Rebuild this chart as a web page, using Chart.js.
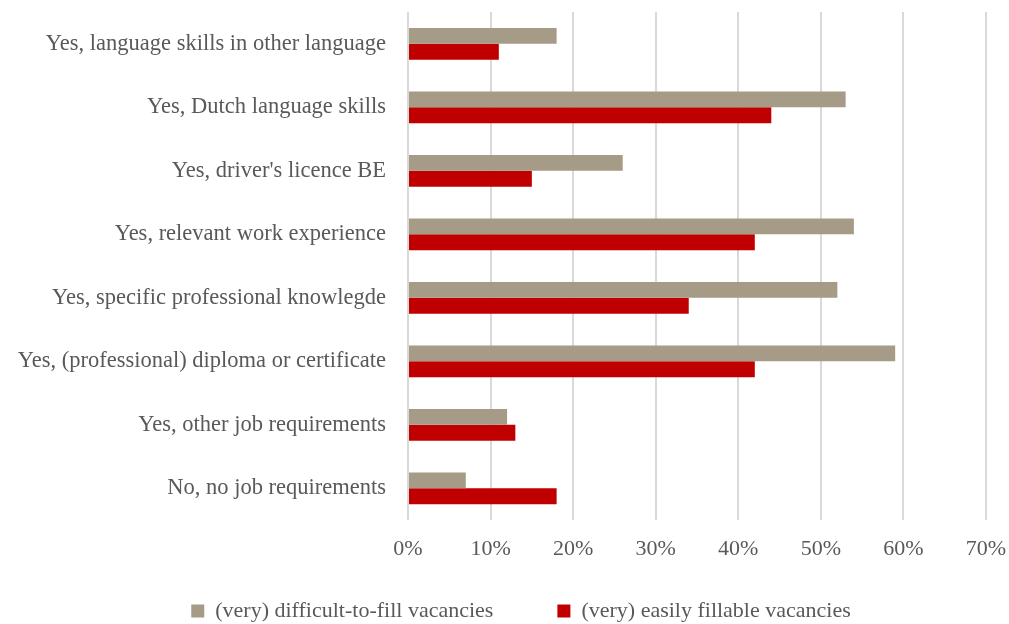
<!DOCTYPE html>
<html>
<head>
<meta charset="utf-8">
<script src="https://cdn.jsdelivr.net/npm/chart.js@4/dist/chart.umd.min.js"></script>
<style>
  html, body { margin: 0; padding: 0; background: #fff; }
  #wrap { width: 1009px; height: 624px; position: relative; }
</style>
</head>
<body>
<div id="wrap"><canvas id="barChart"></canvas></div>
<script>
const categories = [
  'Yes, language skills in other language',
  'Yes, Dutch language skills',
  "Yes, driver's licence BE",
  'Yes, relevant work experience',
  'Yes, specific professional knowlegde',
  'Yes, (professional) diploma or certificate',
  'Yes, other job requirements',
  'No, no job requirements'
];
const difficultValues = [18, 53, 26, 54, 52, 59, 12, 7];
const easyValues = [11, 44, 15, 42, 34, 42, 13, 18];
const xTicks = [0, 10, 20, 30, 40, 50, 60, 70];

const textColor = '#595959';
const fontFamily = '"Liberation Serif", "DejaVu Serif", serif';

// legend uses wide item spacing; move it down/right after layout instead of letting it eat the plot height
const legendPlacement = {
  id: 'legendPlacement',
  afterLayout(chart) {
    const lg = chart.legend;
    lg.top = 536;
    lg.bottom = 624;
    lg.height = lg.bottom - lg.top;
    lg.left = 56;
    lg.width = lg.right - lg.left;
  }
};

new Chart(document.getElementById('barChart'), {
  type: 'bar',
  data: {
    labels: categories,
    datasets: [
      {
        label: '(very) difficult-to-fill vacancies',
        data: difficultValues,
        backgroundColor: '#A59B87',
        borderWidth: 0,
        categoryPercentage: 0.5,
        barPercentage: 1.0
      },
      {
        label: '(very) easily fillable vacancies',
        data: easyValues,
        backgroundColor: '#C00000',
        borderWidth: 0,
        categoryPercentage: 0.5,
        barPercentage: 1.0
      }
    ]
  },
  options: {
    indexAxis: 'y',
    responsive: true,
    maintainAspectRatio: false,
    animation: false,
    layout: { padding: { top: 12, right: 23, bottom: 0, left: 0 } },
    scales: {
      x: {
        min: 0,
        max: 70,
        afterBuildTicks: axis => { axis.ticks = xTicks.map(v => ({ value: v })); },
        afterFit: axis => {
          axis.height = 64;
          axis.paddingLeft = 0;
          axis.paddingRight = 0;
        },
        grid: { color: '#d9d9d9', lineWidth: 2, drawTicks: false },
        border: { display: false },
        ticks: {
          color: textColor,
          font: { family: fontFamily, size: 22 },
          padding: 16,
          callback: v => v + '%'
        }
      },
      y: {
        grid: { display: false },
        border: { display: false },
        afterFit: axis => {
          axis.width = 408;
          axis.paddingTop = 0;
          axis.paddingBottom = 0;
        },
        ticks: {
          color: textColor,
          font: { family: fontFamily, size: 22.5 },
          padding: 14
        }
      }
    },
    plugins: {
      legend: {
        position: 'bottom',
        maxHeight: 40,
        labels: {
          color: textColor,
          font: { family: fontFamily, size: 22 },
          boxWidth: 13,
          boxHeight: 13,
          padding: 64,
          useBorderRadius: false
        }
      },
      tooltip: { enabled: false }
    }
  },
  plugins: [legendPlacement]
});
</script>
</body>
</html>
